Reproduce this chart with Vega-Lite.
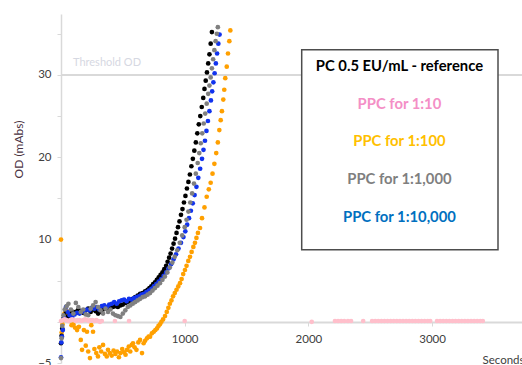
{
  "$schema": "https://vega.github.io/schema/vega-lite/v6.json",
  "width": 461,
  "height": 349,
  "autosize": {"type": "none"},
  "padding": {"left": 61, "top": 14, "right": 0, "bottom": 2},
  "background": "white",
  "config": {"view": {"stroke": null}, "font": "Lato"},
  "datasets": {
    "pts": [
      {"s":"1:100","t":0,"od":10.0},{"s":"1:100","t":5,"od":-1.3},{"s":"1:100","t":12,"od":-0.3},{"s":"1:100","t":20,"od":0.4},{"s":"1:100","t":28,"od":1.0},{"s":"1:100","t":35,"od":1.5},{"s":"1:100","t":42,"od":0.9},{"s":"1:100","t":50,"od":1.2},{"s":"1:100","t":57,"od":1.1},{"s":"1:100","t":65,"od":0.3},{"s":"1:100","t":73,"od":0.2},{"s":"1:100","t":85,"od":-0.4},{"s":"1:100","t":100,"od":-0.3},{"s":"1:100","t":113,"od":-0.7},{"s":"1:100","t":130,"od":-1.0},{"s":"1:100","t":145,"od":-0.6},{"s":"1:100","t":160,"od":-2.2},{"s":"1:100","t":170,"od":-3.4},{"s":"1:100","t":185,"od":-1.0},{"s":"1:100","t":200,"od":-2.9},{"s":"1:100","t":210,"od":-1.2},{"s":"1:100","t":220,"od":-3.6},{"s":"1:100","t":234,"od":-4.4},{"s":"1:100","t":245,"od":-0.4},{"s":"1:100","t":259,"od":-1.2},{"s":"1:100","t":270,"od":-3.3},{"s":"1:100","t":285,"od":-3.8},{"s":"1:100","t":299,"od":-4.2},{"s":"1:100","t":310,"od":-3.1},{"s":"1:100","t":325,"od":-3.6},{"s":"1:100","t":340,"od":-2.8},{"s":"1:100","t":355,"od":-3.9},{"s":"1:100","t":370,"od":-4.2},{"s":"1:100","t":380,"od":-3.4},{"s":"1:100","t":395,"od":-3.8},{"s":"1:100","t":410,"od":-4.1},{"s":"1:100","t":425,"od":-3.5},{"s":"1:100","t":440,"od":-3.9},{"s":"1:100","t":453,"od":-3.6},{"s":"1:100","t":468,"od":-4.3},{"s":"1:100","t":480,"od":-3.8},{"s":"1:100","t":495,"od":-3.3},{"s":"1:100","t":510,"od":-3.7},{"s":"1:100","t":522,"od":-4.0},{"s":"1:100","t":534,"od":-3.4},{"s":"1:100","t":548,"od":-3.0},{"s":"1:100","t":560,"od":-3.6},{"s":"1:100","t":572,"od":-2.8},{"s":"1:100","t":582,"od":-2.6},{"s":"1:100","t":595,"od":-3.1},{"s":"1:100","t":610,"od":-3.4},{"s":"1:100","t":625,"od":-2.5},{"s":"1:100","t":639,"od":-2.2},{"s":"1:100","t":655,"od":-3.8},{"s":"1:100","t":668,"od":-2.6},{"s":"1:100","t":680,"od":-2.3},{"s":"1:100","t":695,"od":-2.0},{"s":"1:100","t":708,"od":-1.8},{"s":"1:100","t":720,"od":-1.8},{"s":"1:100","t":735,"od":-1.4},{"s":"1:100","t":750,"od":-1.2},{"s":"1:100","t":763,"od":-1.0},{"s":"1:100","t":776,"od":-0.8},{"s":"1:100","t":788,"od":-0.5},{"s":"1:100","t":800,"od":-0.3},{"s":"1:100","t":812,"od":0.0},{"s":"1:100","t":825,"od":0.3},{"s":"1:100","t":841,"od":0.7},{"s":"1:100","t":855,"od":1.2},{"s":"1:100","t":868,"od":1.7},{"s":"1:100","t":880,"od":2.2},{"s":"1:100","t":893,"od":2.6},{"s":"1:100","t":906,"od":3.1},{"s":"1:100","t":920,"od":3.5},{"s":"1:100","t":934,"od":3.9},{"s":"1:100","t":948,"od":4.3},{"s":"1:100","t":962,"od":4.7},{"s":"1:100","t":975,"od":5.2},{"s":"1:100","t":988,"od":5.8},{"s":"1:100","t":1002,"od":6.3},{"s":"1:100","t":1015,"od":6.8},{"s":"1:100","t":1029,"od":7.4},{"s":"1:100","t":1043,"od":7.9},{"s":"1:100","t":1056,"od":8.5},{"s":"1:100","t":1070,"od":9.1},{"s":"1:100","t":1083,"od":9.6},{"s":"1:100","t":1095,"od":10.2},{"s":"1:100","t":1107,"od":10.8},{"s":"1:100","t":1124,"od":11.4},{"s":"1:100","t":1140,"od":12.6},{"s":"1:100","t":1160,"od":13.9},{"s":"1:100","t":1178,"od":15.2},{"s":"1:100","t":1195,"od":16.1},{"s":"1:100","t":1210,"od":16.9},{"s":"1:100","t":1225,"od":18.0},{"s":"1:100","t":1240,"od":19.2},{"s":"1:100","t":1255,"od":20.5},{"s":"1:100","t":1268,"od":21.8},{"s":"1:100","t":1280,"od":23.3},{"s":"1:100","t":1291,"od":24.5},{"s":"1:100","t":1301,"od":25.6},{"s":"1:100","t":1312,"od":27.0},{"s":"1:100","t":1320,"od":28.2},{"s":"1:100","t":1328,"od":29.6},{"s":"1:100","t":1340,"od":31.0},{"s":"1:100","t":1350,"od":32.6},{"s":"1:100","t":1361,"od":34.1},{"s":"1:100","t":1369,"od":35.4},
      {"s":"ref","t":0,"od":-2.6},{"s":"ref","t":5,"od":-1.7},{"s":"ref","t":10,"od":-0.8},{"s":"ref","t":18,"od":0.3},{"s":"ref","t":28,"od":0.8},{"s":"ref","t":40,"od":1.2},{"s":"ref","t":55,"od":0.6},{"s":"ref","t":70,"od":1.0},{"s":"ref","t":85,"od":1.3},{"s":"ref","t":100,"od":1.0},{"s":"ref","t":120,"od":1.2},{"s":"ref","t":140,"od":1.5},{"s":"ref","t":160,"od":1.3},{"s":"ref","t":180,"od":1.1},{"s":"ref","t":200,"od":1.4},{"s":"ref","t":220,"od":1.6},{"s":"ref","t":240,"od":1.2},{"s":"ref","t":260,"od":1.5},{"s":"ref","t":280,"od":1.3},{"s":"ref","t":300,"od":1.0},{"s":"ref","t":320,"od":1.2},{"s":"ref","t":340,"od":1.5},{"s":"ref","t":360,"od":1.6},{"s":"ref","t":380,"od":1.4},{"s":"ref","t":400,"od":1.7},{"s":"ref","t":420,"od":1.8},{"s":"ref","t":440,"od":1.9},{"s":"ref","t":460,"od":1.8},{"s":"ref","t":480,"od":2.0},{"s":"ref","t":500,"od":2.1},{"s":"ref","t":520,"od":2.3},{"s":"ref","t":540,"od":2.4},{"s":"ref","t":560,"od":2.6},{"s":"ref","t":580,"od":2.8},{"s":"ref","t":600,"od":3.0},{"s":"ref","t":620,"od":3.2},{"s":"ref","t":640,"od":3.4},{"s":"ref","t":660,"od":3.5},{"s":"ref","t":680,"od":3.7},{"s":"ref","t":700,"od":3.9},{"s":"ref","t":715,"od":4.1},{"s":"ref","t":730,"od":4.3},{"s":"ref","t":745,"od":4.6},{"s":"ref","t":760,"od":4.8},{"s":"ref","t":775,"od":5.1},{"s":"ref","t":790,"od":5.4},{"s":"ref","t":805,"od":5.7},{"s":"ref","t":820,"od":6.0},{"s":"ref","t":835,"od":6.4},{"s":"ref","t":850,"od":6.8},{"s":"ref","t":862,"od":7.3},{"s":"ref","t":874,"od":7.8},{"s":"ref","t":886,"od":8.3},{"s":"ref","t":898,"od":8.9},{"s":"ref","t":910,"od":9.5},{"s":"ref","t":922,"od":10.1},{"s":"ref","t":934,"od":10.8},{"s":"ref","t":946,"od":11.5},{"s":"ref","t":958,"od":12.2},{"s":"ref","t":970,"od":13.0},{"s":"ref","t":982,"od":13.7},{"s":"ref","t":994,"od":14.5},{"s":"ref","t":1006,"od":15.3},{"s":"ref","t":1018,"od":16.2},{"s":"ref","t":1030,"od":17.0},{"s":"ref","t":1042,"od":17.9},{"s":"ref","t":1054,"od":18.9},{"s":"ref","t":1066,"od":19.8},{"s":"ref","t":1078,"od":20.8},{"s":"ref","t":1090,"od":21.8},{"s":"ref","t":1102,"od":22.9},{"s":"ref","t":1114,"od":24.0},{"s":"ref","t":1126,"od":25.0},{"s":"ref","t":1138,"od":26.1},{"s":"ref","t":1150,"od":27.2},{"s":"ref","t":1160,"od":28.3},{"s":"ref","t":1170,"od":29.3},{"s":"ref","t":1180,"od":30.3},{"s":"ref","t":1190,"od":31.4},{"s":"ref","t":1200,"od":32.5},{"s":"ref","t":1210,"od":33.8},{"s":"ref","t":1220,"od":35.2},
      {"s":"1:10,000","t":0,"od":-4.3},{"s":"1:10,000","t":3,"od":-2.5},{"s":"1:10,000","t":8,"od":-1.8},{"s":"1:10,000","t":15,"od":-1.0},{"s":"1:10,000","t":25,"od":0.5},{"s":"1:10,000","t":40,"od":1.8},{"s":"1:10,000","t":55,"od":1.2},{"s":"1:10,000","t":70,"od":0.8},{"s":"1:10,000","t":90,"od":0.6},{"s":"1:10,000","t":110,"od":0.9},{"s":"1:10,000","t":130,"od":1.1},{"s":"1:10,000","t":150,"od":1.0},{"s":"1:10,000","t":170,"od":1.3},{"s":"1:10,000","t":190,"od":1.2},{"s":"1:10,000","t":210,"od":1.5},{"s":"1:10,000","t":230,"od":1.4},{"s":"1:10,000","t":250,"od":1.7},{"s":"1:10,000","t":270,"od":1.6},{"s":"1:10,000","t":290,"od":1.8},{"s":"1:10,000","t":310,"od":1.5},{"s":"1:10,000","t":330,"od":1.9},{"s":"1:10,000","t":350,"od":2.0},{"s":"1:10,000","t":370,"od":1.8},{"s":"1:10,000","t":390,"od":2.1},{"s":"1:10,000","t":410,"od":2.2},{"s":"1:10,000","t":430,"od":2.4},{"s":"1:10,000","t":450,"od":2.2},{"s":"1:10,000","t":470,"od":2.5},{"s":"1:10,000","t":490,"od":2.6},{"s":"1:10,000","t":510,"od":2.7},{"s":"1:10,000","t":530,"od":2.5},{"s":"1:10,000","t":550,"od":2.8},{"s":"1:10,000","t":570,"od":2.7},{"s":"1:10,000","t":590,"od":2.9},{"s":"1:10,000","t":610,"od":3.0},{"s":"1:10,000","t":630,"od":3.1},{"s":"1:10,000","t":650,"od":3.3},{"s":"1:10,000","t":670,"od":3.4},{"s":"1:10,000","t":690,"od":3.6},{"s":"1:10,000","t":710,"od":3.8},{"s":"1:10,000","t":730,"od":4.0},{"s":"1:10,000","t":750,"od":4.3},{"s":"1:10,000","t":770,"od":4.6},{"s":"1:10,000","t":790,"od":4.9},{"s":"1:10,000","t":810,"od":5.2},{"s":"1:10,000","t":830,"od":5.6},{"s":"1:10,000","t":850,"od":6.0},{"s":"1:10,000","t":870,"od":6.5},{"s":"1:10,000","t":890,"od":7.0},{"s":"1:10,000","t":910,"od":7.6},{"s":"1:10,000","t":930,"od":8.2},{"s":"1:10,000","t":950,"od":8.9},{"s":"1:10,000","t":970,"od":9.6},{"s":"1:10,000","t":990,"od":10.3},{"s":"1:10,000","t":1005,"od":11.0},{"s":"1:10,000","t":1020,"od":11.8},{"s":"1:10,000","t":1035,"od":12.6},{"s":"1:10,000","t":1050,"od":13.5},{"s":"1:10,000","t":1065,"od":14.4},{"s":"1:10,000","t":1080,"od":15.4},{"s":"1:10,000","t":1095,"od":16.4},{"s":"1:10,000","t":1110,"od":17.5},{"s":"1:10,000","t":1125,"od":18.6},{"s":"1:10,000","t":1140,"od":19.8},{"s":"1:10,000","t":1152,"od":20.9},{"s":"1:10,000","t":1164,"od":22.0},{"s":"1:10,000","t":1176,"od":23.2},{"s":"1:10,000","t":1188,"od":24.4},{"s":"1:10,000","t":1200,"od":25.6},{"s":"1:10,000","t":1212,"od":26.9},{"s":"1:10,000","t":1222,"od":28.0},{"s":"1:10,000","t":1232,"od":29.1},{"s":"1:10,000","t":1242,"od":30.2},{"s":"1:10,000","t":1252,"od":31.4},{"s":"1:10,000","t":1262,"od":32.6},{"s":"1:10,000","t":1272,"od":33.8},{"s":"1:10,000","t":1282,"od":34.9},
      {"s":"1:1,000","t":0,"od":-4.4},{"s":"1:1,000","t":5,"od":-2.0},{"s":"1:1,000","t":10,"od":-0.5},{"s":"1:1,000","t":20,"od":0.8},{"s":"1:1,000","t":30,"od":1.5},{"s":"1:1,000","t":45,"od":1.9},{"s":"1:1,000","t":60,"od":2.2},{"s":"1:1,000","t":80,"od":1.5},{"s":"1:1,000","t":100,"od":1.0},{"s":"1:1,000","t":120,"od":2.3},{"s":"1:1,000","t":140,"od":1.8},{"s":"1:1,000","t":160,"od":1.2},{"s":"1:1,000","t":180,"od":1.5},{"s":"1:1,000","t":200,"od":0.9},{"s":"1:1,000","t":220,"od":0.8},{"s":"1:1,000","t":240,"od":1.6},{"s":"1:1,000","t":260,"od":2.0},{"s":"1:1,000","t":280,"od":2.4},{"s":"1:1,000","t":300,"od":1.8},{"s":"1:1,000","t":320,"od":1.4},{"s":"1:1,000","t":340,"od":1.0},{"s":"1:1,000","t":360,"od":1.6},{"s":"1:1,000","t":380,"od":1.2},{"s":"1:1,000","t":400,"od":1.5},{"s":"1:1,000","t":420,"od":1.0},{"s":"1:1,000","t":440,"od":0.8},{"s":"1:1,000","t":460,"od":0.7},{"s":"1:1,000","t":480,"od":0.6},{"s":"1:1,000","t":500,"od":1.0},{"s":"1:1,000","t":520,"od":1.4},{"s":"1:1,000","t":540,"od":1.8},{"s":"1:1,000","t":560,"od":2.0},{"s":"1:1,000","t":580,"od":2.2},{"s":"1:1,000","t":600,"od":2.4},{"s":"1:1,000","t":620,"od":2.6},{"s":"1:1,000","t":640,"od":2.8},{"s":"1:1,000","t":660,"od":3.0},{"s":"1:1,000","t":680,"od":3.1},{"s":"1:1,000","t":700,"od":3.3},{"s":"1:1,000","t":720,"od":3.5},{"s":"1:1,000","t":740,"od":3.8},{"s":"1:1,000","t":760,"od":4.1},{"s":"1:1,000","t":780,"od":4.4},{"s":"1:1,000","t":800,"od":4.7},{"s":"1:1,000","t":820,"od":5.1},{"s":"1:1,000","t":840,"od":5.5},{"s":"1:1,000","t":860,"od":6.0},{"s":"1:1,000","t":880,"od":6.6},{"s":"1:1,000","t":900,"od":7.2},{"s":"1:1,000","t":920,"od":7.9},{"s":"1:1,000","t":940,"od":8.7},{"s":"1:1,000","t":960,"od":9.6},{"s":"1:1,000","t":980,"od":10.5},{"s":"1:1,000","t":1000,"od":11.5},{"s":"1:1,000","t":1015,"od":12.4},{"s":"1:1,000","t":1030,"od":13.4},{"s":"1:1,000","t":1045,"od":14.5},{"s":"1:1,000","t":1060,"od":15.6},{"s":"1:1,000","t":1075,"od":16.8},{"s":"1:1,000","t":1090,"od":18.0},{"s":"1:1,000","t":1105,"od":19.3},{"s":"1:1,000","t":1118,"od":20.5},{"s":"1:1,000","t":1130,"od":21.7},{"s":"1:1,000","t":1142,"od":22.9},{"s":"1:1,000","t":1154,"od":24.1},{"s":"1:1,000","t":1166,"od":25.3},{"s":"1:1,000","t":1178,"od":26.5},{"s":"1:1,000","t":1190,"od":27.7},{"s":"1:1,000","t":1200,"od":28.7},{"s":"1:1,000","t":1210,"od":29.7},{"s":"1:1,000","t":1220,"od":30.8},{"s":"1:1,000","t":1230,"od":31.9},{"s":"1:1,000","t":1240,"od":33.0},{"s":"1:1,000","t":1250,"od":34.1},{"s":"1:1,000","t":1260,"od":35.0},{"s":"1:1,000","t":1268,"od":35.8},
      {"s":"1:10","t":0,"od":0.1},{"s":"1:10","t":15,"od":0.2},{"s":"1:10","t":30,"od":0.3},{"s":"1:10","t":45,"od":0.2},{"s":"1:10","t":60,"od":0.1},{"s":"1:10","t":75,"od":0.2},{"s":"1:10","t":90,"od":0.3},{"s":"1:10","t":105,"od":0.2},{"s":"1:10","t":120,"od":0.1},{"s":"1:10","t":135,"od":0.2},{"s":"1:10","t":150,"od":0.2},{"s":"1:10","t":165,"od":0.1},{"s":"1:10","t":180,"od":0.2},{"s":"1:10","t":195,"od":0.3},{"s":"1:10","t":210,"od":0.2},{"s":"1:10","t":225,"od":0.1},{"s":"1:10","t":240,"od":0.2},{"s":"1:10","t":255,"od":0.2},{"s":"1:10","t":270,"od":0.1},{"s":"1:10","t":285,"od":0.2},{"s":"1:10","t":300,"od":0.1},{"s":"1:10","t":315,"od":0.0},{"s":"1:10","t":330,"od":0.1},{"s":"1:10","t":436,"od":0.1},{"s":"1:10","t":550,"od":0.1},{"s":"1:10","t":1000,"od":0.1},{"s":"1:10","t":2027,"od":0.0},{"s":"1:10","t":2215,"od":0.1},{"s":"1:10","t":2240,"od":0.1},{"s":"1:10","t":2265,"od":0.1},{"s":"1:10","t":2290,"od":0.1},{"s":"1:10","t":2320,"od":0.1},{"s":"1:10","t":2345,"od":0.1},{"s":"1:10","t":2443,"od":0.1},{"s":"1:10","t":2515,"od":0.1},{"s":"1:10","t":2540,"od":0.1},{"s":"1:10","t":2565,"od":0.1},{"s":"1:10","t":2590,"od":0.1},{"s":"1:10","t":2615,"od":0.1},{"s":"1:10","t":2640,"od":0.1},{"s":"1:10","t":2665,"od":0.1},{"s":"1:10","t":2690,"od":0.1},{"s":"1:10","t":2715,"od":0.1},{"s":"1:10","t":2740,"od":0.1},{"s":"1:10","t":2765,"od":0.1},{"s":"1:10","t":2790,"od":0.1},{"s":"1:10","t":2815,"od":0.1},{"s":"1:10","t":2840,"od":0.1},{"s":"1:10","t":2865,"od":0.1},{"s":"1:10","t":2890,"od":0.1},{"s":"1:10","t":2915,"od":0.1},{"s":"1:10","t":2940,"od":0.1},{"s":"1:10","t":2965,"od":0.1},{"s":"1:10","t":2985,"od":0.1},{"s":"1:10","t":3040,"od":0.1},{"s":"1:10","t":3065,"od":0.1},{"s":"1:10","t":3090,"od":0.1},{"s":"1:10","t":3115,"od":0.1},{"s":"1:10","t":3140,"od":0.1},{"s":"1:10","t":3165,"od":0.1},{"s":"1:10","t":3190,"od":0.1},{"s":"1:10","t":3215,"od":0.1},{"s":"1:10","t":3240,"od":0.1},{"s":"1:10","t":3265,"od":0.1},{"s":"1:10","t":3290,"od":0.1},{"s":"1:10","t":3315,"od":0.1},{"s":"1:10","t":3340,"od":0.1},{"s":"1:10","t":3365,"od":0.1},{"s":"1:10","t":3390,"od":0.1},{"s":"1:10","t":3410,"od":0.1}
    ],
    "legend": [
      {"label": "PC 0.5 EU/mL - reference", "t": 2736, "od": 31.0},
      {"label": "PPC for 1:10", "t": 2736, "od": 26.4},
      {"label": "PPC for 1:100", "t": 2736, "od": 21.9},
      {"label": "PPC for 1:1,000", "t": 2736, "od": 17.25},
      {"label": "PPC for 1:10,000", "t": 2736, "od": 12.6}
    ]
  },
  "encoding": {
    "x": {
      "field": "t", "type": "quantitative",
      "scale": {"domain": [0, 3727], "nice": false, "zero": false},
      "axis": {
        "values": [1000, 2000, 3000], "format": "d", "offset": -41, "grid": false,
        "domainColor": "#d9d9d9", "domainWidth": 2,
        "tickColor": "#d9d9d9", "tickSize": 4, "labelPadding": 7,
        "labelFontSize": 11.5, "labelColor": "#404040", "labelFont": "Lato",
        "title": "Seconds", "titleFont": "Lato", "titleFontSize": 11.5, "titleFontWeight": "normal",
        "titleColor": "#404040", "titleAlign": "left", "titleBaseline": "top",
        "titleX": 421, "titleY": 32
      }
    },
    "y": {
      "field": "od", "type": "quantitative",
      "scale": {"domain": [-5, 37.4], "nice": false, "zero": false},
      "axis": {
        "values": [-5, 0, 5, 10, 15, 20, 25, 30, 35], "grid": false,
        "labelExpr": "indexof([-5, 10, 20, 30], datum.value) >= 0 ? datum.label : ''",
        "domainColor": "#d9d9d9", "domainWidth": 1.5,
        "tickColor": "#d9d9d9", "tickSize": 4, "labelPadding": 6,
        "labelFontSize": 11.5, "labelColor": "#404040", "labelFont": "Lato",
        "title": "OD (mAbs)", "titleFont": "Lato", "titleFontSize": 12, "titleFontWeight": "normal",
        "titleColor": "#4a3343", "titleX": -43, "titleY": 135, "titleAlign": "center", "titleBaseline": "middle"
      }
    }
  },
  "layer": [
    {
      "data": {"values": [{"od": 30}]},
      "mark": {"type": "rule", "color": "#d9d9d9", "strokeWidth": 2},
      "encoding": {"x": null}
    },
    {
      "data": {"values": [{"t": 97, "od": 31.5, "label": "Threshold OD"}]},
      "mark": {"type": "text", "align": "left", "baseline": "middle", "font": "Lato", "fontSize": 11, "color": "#d6d8e2"},
      "encoding": {"text": {"field": "label"}}
    },
    {
      "data": {"name": "pts"},
      "mark": {"type": "point", "shape": "circle", "filled": true, "size": 22, "opacity": 1},
      "encoding": {
        "color": {
          "field": "s", "type": "nominal", "legend": null,
          "scale": {"domain": ["ref", "1:10", "1:100", "1:1,000", "1:10,000"],
                    "range": ["#000000", "#ffbfcb", "#ffa000", "#808080", "#1133ee"]}
        }
      }
    },
    {
      "data": {"values": [{"t": 1946, "t2": 3533, "od": 33.05, "od2": 8.75}]},
      "mark": {"type": "rect", "fill": "white", "stroke": "#4d4d4d", "strokeWidth": 1.5},
      "encoding": {"x2": {"field": "t2"}, "y2": {"field": "od2"}}
    },
    {
      "data": {"name": "legend"},
      "mark": {"type": "text", "align": "center", "baseline": "middle", "font": "Lato", "fontSize": 14.8, "fontWeight": "bold"},
      "encoding": {
        "text": {"field": "label"},
        "color": {
          "field": "label", "type": "nominal", "legend": null,
          "scale": {"domain": ["PC 0.5 EU/mL - reference", "PPC for 1:10", "PPC for 1:100", "PPC for 1:1,000", "PPC for 1:10,000"],
                    "range": ["#000000", "#f48fc6", "#ffc000", "#7f7f7f", "#0070c0"]}
        }
      }
    }
  ],
  "resolve": {"scale": {"color": "independent"}}
}
